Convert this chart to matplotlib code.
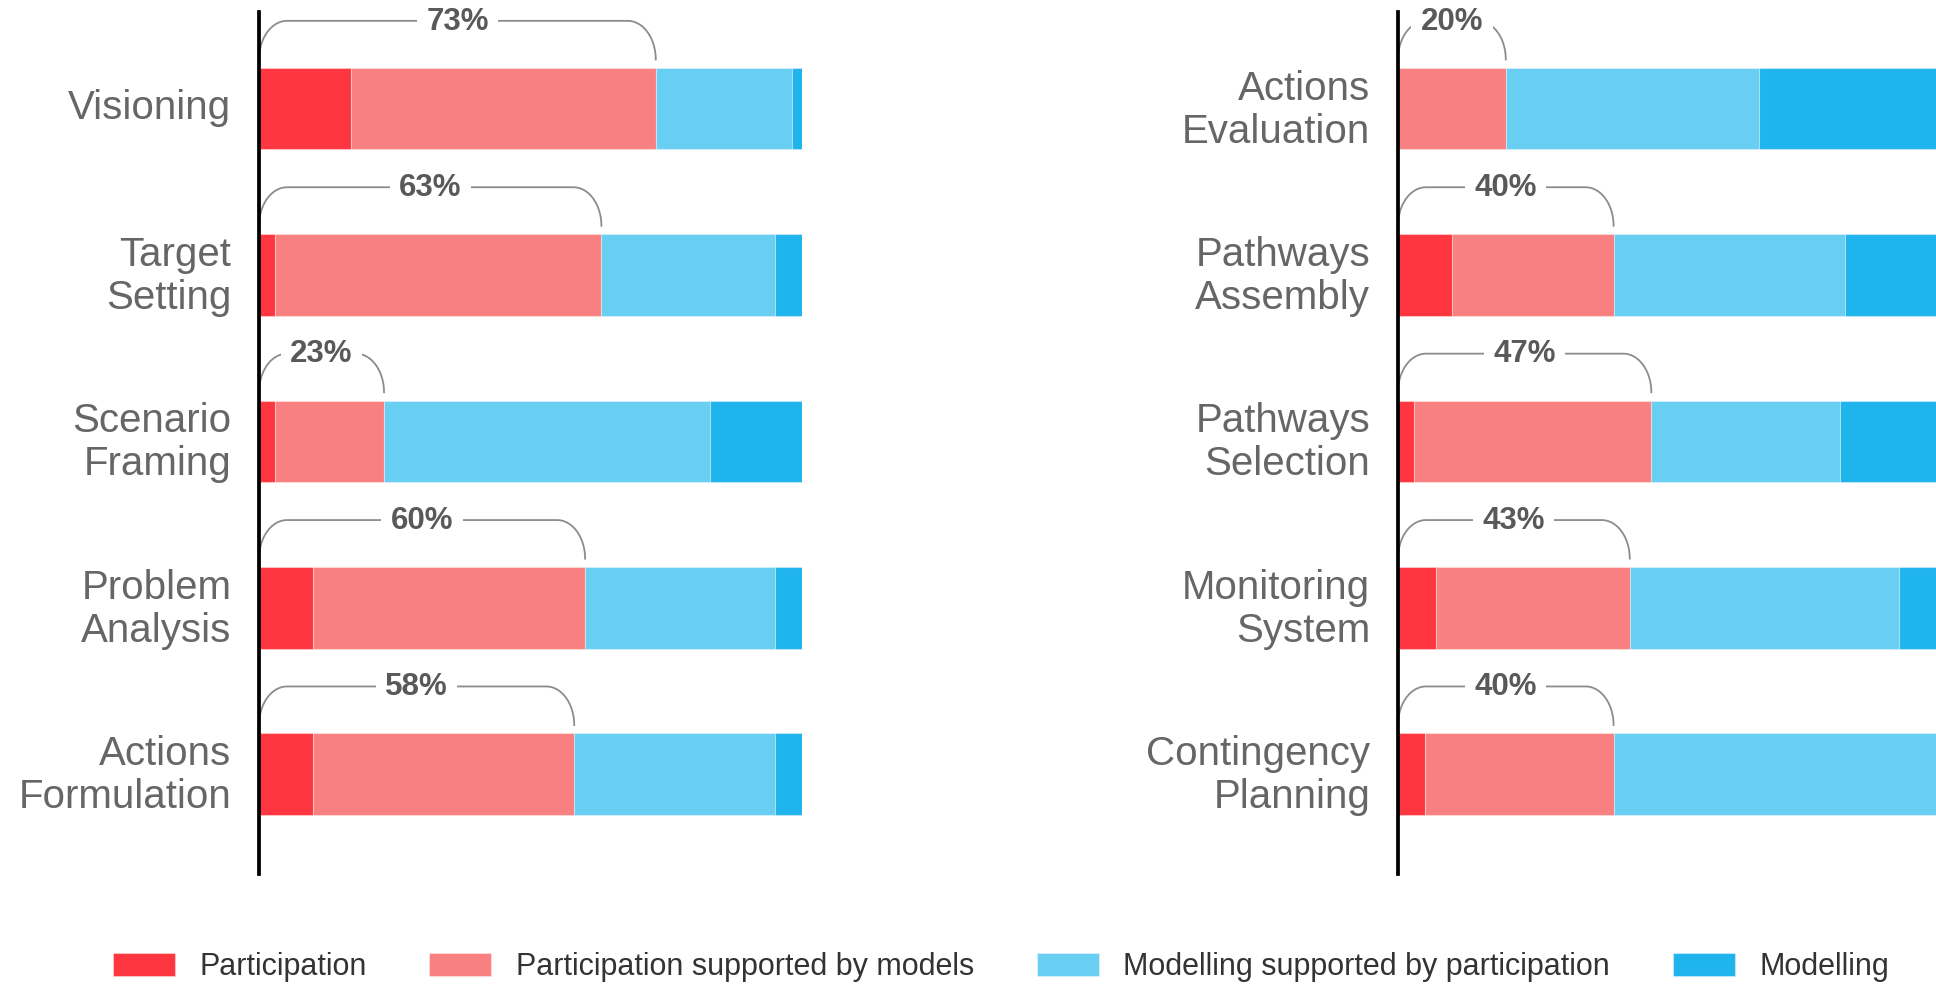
import numpy as np
import matplotlib.pyplot as plt

plt.rcParams['font.family'] = ['Liberation Sans', 'DejaVu Sans']

# Data (share of studies, %)
left_labels = ['Visioning', 'Target\nSetting', 'Scenario\nFraming', 'Problem\nAnalysis', 'Actions\nFormulation']
left_participation = [17, 3, 3, 10, 10]
left_part_models = [56, 60, 20, 50, 48]
left_model_part = [25, 32, 60, 35, 37]
left_modelling = [2, 5, 17, 5, 5]

right_labels = ['Actions\nEvaluation', 'Pathways\nAssembly', 'Pathways\nSelection', 'Monitoring\nSystem', 'Contingency\nPlanning']
right_participation = [0, 10, 3, 7, 5]
right_part_models = [20, 30, 44, 36, 35]
right_model_part = [47, 43, 35, 50, 60]
right_modelling = [33, 17, 18, 7, 0]

series_names = ['Participation', 'Participation supported by models',
                'Modelling supported by participation', 'Modelling']
colors = ['#fe363f', '#f98080', '#68cff2', '#20b4ec']

fig = plt.figure(figsize=(19.36, 9.86), dpi=100)
ax_l = fig.add_axes([0.1338, 0.1136, 0.2807, 0.8742])
ax_r = fig.add_axes([0.7221, 0.1136, 0.2784, 0.8742])


def draw_bracket(ax, y, x1, label, rx_px=28):
    # rounded bracket from 0 to x1 above the bar centred at y
    ax_w = ax.get_window_extent().width
    rx = rx_px / ax_w * 100
    rx = min(rx, x1 / 2.0)
    yb = y - 0.295
    yt = y - 0.527
    h = yb - yt
    t = np.linspace(0, np.pi / 2, 30)
    xl = rx * (1 - np.cos(t))
    yl = yb - h * np.sin(t)
    xr = x1 - rx * (1 - np.cos(t[::-1]))
    yr = yb - h * np.sin(t[::-1])
    xs = np.concatenate([xl, xr])
    ys = np.concatenate([yl, yr])
    ax.plot(xs, ys, color='#8c8c8c', lw=1.3, clip_on=False, zorder=3)
    ax.text(x1 / 2.0, yt + 0.005, label, ha='center', va='center', fontsize=22.5,
            fontweight='bold', color='#595959', zorder=4,
            bbox=dict(boxstyle='square,pad=0.3', facecolor='white', edgecolor='none'))


def draw_panel(ax, labels, p, pm, mp, m):
    y = np.arange(len(labels))
    left = np.zeros(len(labels))
    for vals, col, name in zip([p, pm, mp, m], colors, series_names):
        ax.barh(y, vals, left=left, height=0.49, color=col, label=name,
                edgecolor=(1, 1, 1, 0.35), linewidth=0.8)
        left = left + np.array(vals)
    ax.set_xlim(0, 100)
    ax.set_ylim(4.6, -0.58)
    # labels sit a touch above the bar centre
    ax.set_yticks(y - 0.03)
    ax.set_yticklabels(labels, fontsize=29, color='#666666', linespacing=1.17)
    ax.tick_params(axis='y', length=0, pad=20)
    ax.set_xticks([])
    for s in ['top', 'right', 'bottom']:
        ax.spines[s].set_visible(False)
    ax.spines['left'].set_linewidth(2.7)
    ax.spines['left'].set_color('black')
    ax.spines['left'].set_zorder(5)
    for yi, a, b in zip(y, p, pm):
        draw_bracket(ax, yi, a + b, f'{a + b}%')


draw_panel(ax_l, left_labels, left_participation, left_part_models, left_model_part, left_modelling)
draw_panel(ax_r, right_labels, right_participation, right_part_models, right_model_part, right_modelling)

handles, names = ax_l.get_legend_handles_labels()
fig.legend(handles, names, loc='center', bbox_to_anchor=(0.517, 0.019), ncol=4,
           frameon=False, fontsize=22, handlelength=2.03, handleheight=0.8,
           handletextpad=0.8, columnspacing=2.05, labelcolor='#333333', borderpad=0)

fig.savefig('out.png', dpi=100)
